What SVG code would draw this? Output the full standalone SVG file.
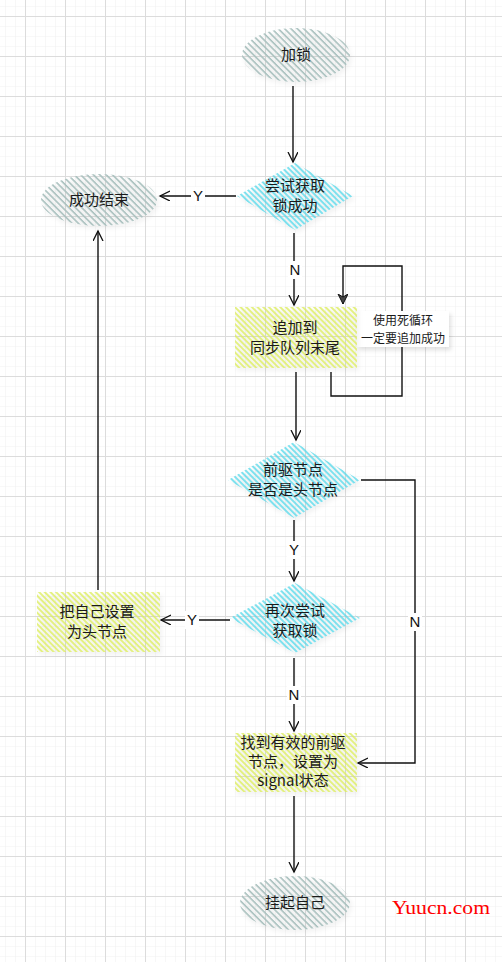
<svg xmlns="http://www.w3.org/2000/svg" width="502" height="962" viewBox="0 0 502 962">
<defs>
<pattern id="minor" patternUnits="userSpaceOnUse" x="5" y="6" width="10" height="10"><path d="M0,0 V10 M0,0 H10" stroke="#f2f2f2" stroke-width="1.2" fill="none"/></pattern>
<pattern id="major" patternUnits="userSpaceOnUse" x="25" y="16" width="40" height="40"><path d="M0.5,0 V40 M0,0.5 H40" stroke="#dcdcdc" stroke-width="1" fill="none"/></pattern>
<pattern id="hGray" patternUnits="userSpaceOnUse" width="4.5" height="4.5" patternTransform="rotate(-45)"><line x1="1" y1="0" x2="1" y2="4.5" stroke="#a9c0be" stroke-width="1.6"/></pattern>
<pattern id="hCyan" patternUnits="userSpaceOnUse" width="4" height="4" patternTransform="rotate(-45)"><line x1="1" y1="0" x2="1" y2="4" stroke="#55d9ea" stroke-width="1.5"/></pattern>
<pattern id="hYellow" patternUnits="userSpaceOnUse" width="4" height="4" patternTransform="rotate(-45)"><line x1="1" y1="0" x2="1" y2="4" stroke="#dcec5a" stroke-width="1.5"/></pattern>
<filter id="sh" x="-20%" y="-20%" width="150%" height="150%"><feDropShadow dx="2" dy="3" stdDeviation="2" flood-color="#000" flood-opacity="0.12"/></filter>
<marker id="arr" markerWidth="12" markerHeight="12" refX="10" refY="5" orient="auto" markerUnits="userSpaceOnUse"><path d="M0,0 L10,5 L0,10" fill="none" stroke="#111" stroke-width="1.3"/></marker>
<marker id="tri" markerWidth="14" markerHeight="14" refX="10" refY="5" orient="auto" markerUnits="userSpaceOnUse"><path d="M0,0 L10,5 L0,10 L3,5 Z" fill="#444" stroke="#111" stroke-width="1"/></marker>
<style>
.t{font-family:"Noto Sans CJK SC","Noto Sans",sans-serif;font-size:15px;fill:#1a1a1a;text-anchor:middle}
.s{font-family:"Noto Sans CJK SC","Noto Sans",sans-serif;font-size:12px;fill:#1a1a1a;text-anchor:middle}
.l{font-family:"Liberation Sans","Noto Sans",sans-serif;font-size:15px;fill:#111;text-anchor:middle}
.c{fill:none;stroke:#111;stroke-width:1.4;marker-end:url(#arr)}
.lb{fill:#fff}
</style>
</defs>
<rect width="502" height="962" fill="#fff"/>
<rect width="502" height="962" fill="url(#minor)"/>
<rect width="502" height="962" fill="url(#major)"/>

<g id="connectors">
<path class="c" d="M293,86 V162"/>
<path class="c" d="M236,196 H160"/>
<path class="c" d="M294,233 V305"/>
<path d="M331,372 V396 H402 V266 H343 V304" fill="none" stroke="#111" stroke-width="1.4" marker-end="url(#tri)"/>
<path class="c" d="M296,372 V440"/>
<path class="c" d="M361,480 H415 V763 H358"/>
<path class="c" d="M294,520 V581"/>
<path class="c" d="M230,620 H161"/>
<path class="c" d="M98,590 V231"/>
<path class="c" d="M294,658 V731"/>
<path class="c" d="M294,796 V872"/>
<rect class="lb" x="191" y="187" width="14" height="18"/>
<text class="l" x="198" y="201">Y</text>
<rect class="lb" x="288" y="261" width="14" height="18"/>
<text class="l" x="295" y="275">N</text>
<rect class="lb" x="287" y="541" width="14" height="18"/>
<text class="l" x="294" y="555">Y</text>
<rect class="lb" x="185" y="611" width="14" height="18"/>
<text class="l" x="192" y="625">Y</text>
<rect class="lb" x="408" y="613" width="14" height="18"/>
<text class="l" x="415" y="627">N</text>
<rect class="lb" x="287" y="686" width="14" height="18"/>
<text class="l" x="294" y="700">N</text>
<g filter="url(#sh)"><rect class="lb" x="357" y="311" width="92" height="36"/></g>
<text class="s" x="403" y="325">使用死循环</text>
<text class="s" x="403" y="343">一定要追加成功</text>
</g>

<g id="n-lock">
<ellipse cx="296" cy="55" rx="54" ry="27" fill="url(#hGray)" filter="url(#sh)"/>
<text class="t" x="296" y="60">加锁</text>
</g>
<g id="n-try1">
<polygon points="295,163 353,196 295,230 237,196" fill="url(#hCyan)" filter="url(#sh)"/>
<text class="t" x="295" y="191">尝试获取</text>
<text class="t" x="295" y="211">锁成功</text>
</g>
<g id="n-success">
<ellipse cx="99" cy="200" rx="58" ry="26" fill="url(#hGray)" filter="url(#sh)"/>
<text class="t" x="99" y="205">成功结束</text>
</g>
<g id="n-enqueue">
<rect x="235" y="307" width="122" height="61" fill="url(#hYellow)" filter="url(#sh)"/>
<text class="t" x="295" y="333">追加到</text>
<text class="t" x="295" y="353">同步队列末尾</text>
</g>
<g id="n-prevhead">
<polygon points="294,442 360,480 294,518 228,480" fill="url(#hCyan)" filter="url(#sh)"/>
<text class="t" x="293" y="475">前驱节点</text>
<text class="t" x="293" y="495">是否是头节点</text>
</g>
<g id="n-try2">
<polygon points="295,583 360,618 295,653 230,618" fill="url(#hCyan)" filter="url(#sh)"/>
<text class="t" x="295" y="616">再次尝试</text>
<text class="t" x="295" y="636">获取锁</text>
</g>
<g id="n-sethead">
<rect x="37" y="592" width="123" height="60" fill="url(#hYellow)" filter="url(#sh)"/>
<text class="t" x="97" y="617">把自己设置</text>
<text class="t" x="97" y="637">为头节点</text>
</g>
<g id="n-signal">
<rect x="235" y="733" width="122" height="59" fill="url(#hYellow)" filter="url(#sh)"/>
<text class="t" x="293" y="748">找到有效的前驱</text>
<text class="t" x="293" y="767">节点，设置为</text>
<text class="t" x="293" y="786">signal状态</text>
</g>
<g id="n-park">
<ellipse cx="295" cy="903" rx="55" ry="27" fill="url(#hGray)" filter="url(#sh)"/>
<text class="t" x="295" y="908">挂起自己</text>
</g>
<text x="392" y="914" font-family="'Liberation Serif',serif" font-size="19" fill="#f00" textLength="98" lengthAdjust="spacingAndGlyphs">Yuucn.com</text>
</svg>
